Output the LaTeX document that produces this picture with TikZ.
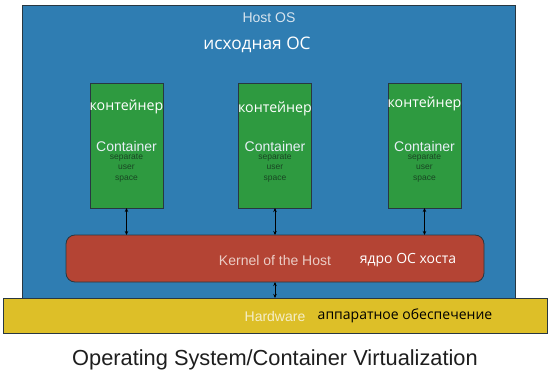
\documentclass[tikz,border=0pt]{standalone}
\usepackage{fontspec}
\setmainfont{Liberation Sans}
\newfontfamily\ru{Open Sans}
\usetikzlibrary{arrows.meta}
\definecolor{hostblue}{RGB}{47,125,178}
\definecolor{contgreen}{RGB}{46,154,64}
\definecolor{kernred}{RGB}{180,68,52}
\definecolor{hwyellow}{RGB}{221,191,40}
\definecolor{edgedark}{RGB}{40,55,65}
\definecolor{lighttext}{RGB}{215,228,238}
\definecolor{darkgreentext}{RGB}{25,70,35}
\definecolor{kerntext}{RGB}{235,205,198}
\definecolor{hwtext}{RGB}{245,238,200}
\definecolor{titletext}{RGB}{30,30,30}
\tikzset{
  x=1pt, y=-1pt,
  box/.style={draw=edgedark, line width=0.8pt, inner sep=0pt, outer sep=0pt},
  contbox/.style={box, fill=contgreen, minimum width=73pt, minimum height=125pt},
  conn/.style={draw=black, line width=0.8pt, {Stealth[length=4pt,width=3.5pt]}-{Stealth[length=4pt,width=3.5pt]}},
  en/.style={inner sep=0pt, font=\fontsize{14}{16}\selectfont},
  rutext/.style={inner sep=0pt, text=white, font=\ru\fontsize{14}{16}\selectfont},
  conttitle/.style={rutext, font=\ru\fontsize{14.2}{16}\selectfont},
}
\begin{document}
\begin{tikzpicture}
\useasboundingbox (0,0) rectangle (549,377);
\fill[white] (0,0) rectangle (549,377);
% host OS
\node[box, fill=hostblue, minimum width=493pt, minimum height=293pt, anchor=north west] (host) at (22,5) {};
\node[en, text=lighttext] (hosttxt) at (269,18) {Host OS};
\node[rutext, font=\ru\fontsize{17.3}{19}\selectfont] (hostru) at (257,45) {исходная ОС};
% hardware
\node[box, fill=hwyellow, minimum width=544pt, minimum height=35pt, anchor=north west] (hw) at (3,298) {};
\node[en, text=hwtext] (hwtxt) at (275,316) {Hardware};
\node[rutext, text=black] (hwru) at (405,316) {аппаратное обеспечение};
% kernel
\node[box, fill=kernred, rounded corners=9pt, minimum width=418pt, minimum height=47pt, anchor=north west] (kern) at (66,235) {};
\node[en, text=kerntext] (kerntxt) at (275,260) {Kernel of the Host};
\node[rutext] (kernru) at (408,260) {ядро ОС хоста};
% containers
\foreach \i/\cx in {1/126.5,2/275,3/424.5}{
  \node[contbox, anchor=north] (c\i) at (\cx,83) {};
  \node[en, text=lighttext!60!white] (ct\i) at (\cx,146) {Container};
  \node[inner sep=0pt, text=darkgreentext, align=center, font=\fontsize{8.5}{10.3}\selectfont, anchor=north] (cs\i) at (\cx,154) {separate\\user\\space};
}
\node[conttitle] (cr1) at (126.5,107) {контейнер};
\node[conttitle] (cr2) at (275,109) {контейнер};
\node[conttitle] (cr3) at (424.5,104) {контейнер};
% connectors
\foreach \i in {1,2,3}{
  \draw[conn] (c\i.south) -- (c\i.south |- kern.north);
}
\draw[conn] (kern.south -| c2.south) -- (hw.north -| c2.south);
% title
\node[inner sep=0pt, text=titletext, font=\fontsize{21.8}{24}\selectfont] (title) at (275,360) {Operating System/Container Virtualization};
\end{tikzpicture}
\end{document}
